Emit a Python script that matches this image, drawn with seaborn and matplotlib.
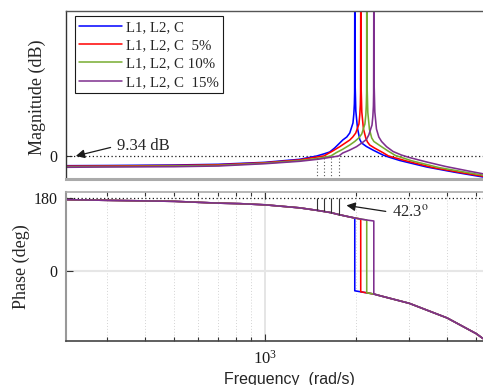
import numpy as np
import pandas as pd
import matplotlib
matplotlib.use("Agg")
import matplotlib.pyplot as plt
import seaborn as sns
from matplotlib.ticker import LogLocator, NullFormatter, FixedLocator

# ---------------- data ----------------
labels = ["L1, L2, C", "L1, L2, C  5%", "L1, L2, C 10%", "L1, L2, C  15%"]
colors = ["#0000ff", "#ff0000", "#77ac30", "#7e2f8e"]

# resonance frequencies (rad/s) and 0 dB crossover frequencies
res_freq = [1979, 2071, 2168, 2288]
cross_freq = [1481, 1562, 1648, 1752]
cross_phase = [148.8, 146.0, 143.1, 138.2]

# magnitude curves (freq rad/s, magnitude dB)
mag_f_blue = [219, 300, 500, 700, 1000, 1300, 1481, 1560, 1635, 1698, 1806, 1862, 1905, 1952, 1965, 1973, 1977, 1979,
              1981, 1985, 1995, 2020, 2056, 2085, 2163, 2272, 2452, 2560, 2790, 3425, 4200, 5260]
mag_db_blue = [-9.7, -9.5, -9.0, -8.3, -6.3, -3.3, 0, 2, 4, 8, 16, 19, 23, 33, 42, 52, 64, 160,
               160, 70, 45, 28, 16.5, 13, 9.5, 6, 1, -1, -4.5, -11, -16, -21]
mag_f_red = [219, 300, 500, 700, 1000, 1300, 1400, 1562, 1657, 1765, 1905, 1949, 1994, 2043, 2056, 2065, 2069, 2071,
             2073, 2077, 2088, 2114, 2152, 2180, 2218, 2300, 2455, 2560, 2920, 3584, 4395, 5260]
mag_db_red = [-10.2, -10.0, -9.5, -8.8, -6.7, -3.9, -2.2, 0, 4.3, 9.3, 16, 19, 23, 32, 41, 51, 63, 160,
              160, 69, 44, 27.3, 18, 14, 11, 8, 3.3, 0, -4.8, -11.5, -16.3, -20.2]
mag_f_green = [219, 300, 500, 700, 1000, 1300, 1500, 1648, 1722, 1800, 1905, 1978, 2040, 2087, 2138, 2153, 2161, 2166, 2168,
               2170, 2175, 2186, 2213, 2252, 2290, 2394, 2550, 2700, 3056, 3752, 4601, 5260]
mag_db_green = [-10.7, -10.5, -10.0, -9.4, -7.2, -4.6, -2.3, 0, 3.5, 6.5, 11, 14.5, 18, 22, 32, 41, 51, 63, 160,
                160, 68, 43.5, 26.8, 18, 14.5, 10.5, 5, 0.5, -4.8, -11.5, -16.2, -19.2]
mag_f_purple = [219, 300, 500, 700, 1000, 1300, 1500, 1752, 1806, 1900, 2005, 2088, 2162, 2202, 2257, 2272, 2281, 2285, 2288,
                2290, 2295, 2306, 2335, 2377, 2428, 2522, 2650, 2822, 3000, 3425, 3959, 4855, 5260]
mag_db_purple = [-11.3, -11.0, -10.7, -10.0, -7.7, -5.3, -3.2, 0, 3, 5.8, 9.3, 13, 16.5, 21, 31, 40, 50, 63, 160,
                 160, 69, 44, 27, 19, 14.5, 9.3, 4.5, 1, -1.5, -6, -10.5, -15.8, -17.8]

# phase: common branch before resonance and after resonance (deg)
ph_f_upper = [219, 300, 501, 700, 826, 1000, 1300, 1481, 1562, 1648, 1752, 1900, 1979, 2071, 2168, 2288]
ph_upper = [175.1, 173.4, 170.9, 166.5, 165.2, 162.3, 154.9, 148.8, 146.0, 143.1, 138.2, 132.5, 129.8, 127.2, 124.8, 122.4]
ph_f_lower = [1979, 2071, 2168, 2288, 2394, 3000, 4000, 5000, 5260]
ph_lower = [-50, -52.5, -55, -58, -62, -81, -117, -156, -168]

# ---------------- build tables ----------------
mag_f = [mag_f_blue, mag_f_red, mag_f_green, mag_f_purple]
mag_db = [mag_db_blue, mag_db_red, mag_db_green, mag_db_purple]
rows = []
for lab, fs, ds in zip(labels, mag_f, mag_db):
    for f, d in zip(fs, ds):
        rows.append({"curve": lab, "freq": f, "mag": d})
mag_df = pd.DataFrame(rows)

rows = []
for lab, wr in zip(labels, res_freq):
    for f, p in zip(ph_f_upper, ph_upper):
        if f <= wr:
            rows.append({"curve": lab, "freq": f, "phase": p})
    for f, p in zip(ph_f_lower, ph_lower):
        if f >= wr:
            rows.append({"curve": lab, "freq": f, "phase": p})
ph_df = pd.DataFrame(rows)

palette = dict(zip(labels, colors))

# ---------------- figure ----------------
sns.set_theme(style="white")
plt.rcParams["font.family"] = ["Liberation Serif", "DejaVu Serif"]
plt.rcParams["mathtext.fontset"] = "stix"

W, H = 483, 385
fig = plt.figure(figsize=(W / 100, H / 100), dpi=100)
fig.patch.set_facecolor("white")

def fx(px):
    return px / W

def fy(py):
    return 1 - py / H

ax1 = fig.add_axes([fx(66), fy(179), fx(483) - fx(66), fy(11) - fy(179)])
ax2 = fig.add_axes([fx(66), fy(341), fx(483) - fx(66), fy(192) - fy(341)])

xlim = (219, 5260)

# --- magnitude ---
sns.lineplot(data=mag_df, x="freq", y="mag", hue="curve", hue_order=labels, palette=palette,
             estimator=None, sort=False, lw=1.15, ax=ax1, legend=True)
ax1.set_xscale("log")
ax1.set_xlim(*xlim)
ax1.set_ylim(-23, 145)
ax1.axhline(0, color="k", ls=(0, (1, 2)), lw=0.9, zorder=1)
ax1.vlines(cross_freq, -23, 0, colors="0.35", linestyles=(0, (1, 2)), lw=0.8)
ax1.set_yticks([0])
ax1.set_yticklabels(["0"])
ax1.set_xticks([])
ax1.xaxis.set_minor_locator(FixedLocator([]))
ax1.set_xlabel("")
ax1.set_ylabel("Magnitude (dB)", fontsize=13)
ax1.yaxis.set_label_coords(-0.0695, 0.485)
ax1.yaxis.label.set_va("center")
ax1.tick_params(axis="y", direction="in", length=4, width=0.8, pad=6, labelsize=11.5, colors="#333333",
                labelcolor="k", left=True)
ax1.spines["left"].set_color("#333333"); ax1.spines["left"].set_linewidth(1.0)
ax1.spines["top"].set_color("#555555"); ax1.spines["top"].set_linewidth(1.0)
ax1.spines["bottom"].set_color("#aaaaaa"); ax1.spines["bottom"].set_linewidth(2.2)
ax1.spines["right"].set_visible(False)

h, l = ax1.get_legend_handles_labels()
leg = ax1.legend(h, l, loc="upper left", bbox_to_anchor=((75 - 66) / 417, (179 - 16) / 168),
                 borderaxespad=0, fontsize=10.7, frameon=True, fancybox=False, framealpha=1,
                 edgecolor="k", borderpad=0.3, handlelength=2.85, handletextpad=0.25,
                 labelspacing=0.33)
leg.get_frame().set_linewidth(0.8)
for line in leg.get_lines():
    line.set_linewidth(1.1)

ax1.annotate("9.34 dB", xy=(236, 0), xytext=(322, 10), fontsize=12, va="center", ha="left",
             arrowprops=dict(arrowstyle="-|>", color="k", lw=0.9, mutation_scale=13,
                             shrinkA=2, shrinkB=0, relpos=(0, 0.5)))

# --- phase ---
ax2.set_xscale("log")
for xv in [300, 400, 500, 600, 700, 800, 900, 2000, 3000, 4000, 5000]:
    ax2.axvline(xv, color="#d4d4d4", ls=(0, (1, 2)), lw=0.7, zorder=0)
ax2.axvline(1000, color="#e3e3e3", lw=1.3, zorder=0)
ax2.axhline(0, color="#e6e6e6", lw=1.5, zorder=0)
sns.lineplot(data=ph_df, x="freq", y="phase", hue="curve", hue_order=labels, palette=palette,
             estimator=None, sort=False, lw=1.15, ax=ax2, legend=False)
ax2.set_xlim(*xlim)
ax2.set_ylim(-174, 194)
ax2.axhline(180, color="k", ls=(0, (1, 2)), lw=0.9, zorder=1)
ax2.vlines(cross_freq, cross_phase, 180, colors="#333333", lw=0.8)
ax2.set_yticks([0, 180])
ax2.set_yticklabels(["0", "180"])
ax2.xaxis.set_major_locator(LogLocator(base=10))
ax2.xaxis.set_minor_locator(LogLocator(base=10, subs=np.arange(2, 10)))
ax2.xaxis.set_minor_formatter(NullFormatter())
ax2.tick_params(axis="x", which="both", direction="in", top=True, bottom=True, colors="#333333",
                labelcolor="k", labelsize=12, pad=6)
ax2.tick_params(axis="x", which="major", length=5, width=0.8)
ax2.tick_params(axis="x", which="minor", length=3, width=0.8)
ax2.tick_params(axis="y", direction="in", length=5, width=0.8, pad=6, labelsize=11.5, colors="#333333",
                labelcolor="k", left=True)
ax2.set_ylabel("Phase (deg)", fontsize=13)
ax2.yaxis.set_label_coords(-0.108, 0.5)
ax2.yaxis.label.set_va("center")
ax2.set_xlabel("Frequency  (rad/s)", fontsize=11.5, family=["Liberation Sans", "DejaVu Sans"])
ax2.xaxis.set_label_coords(0.537, -0.205)
ax2.xaxis.label.set_va("top")
ax2.spines["left"].set_color("#999999"); ax2.spines["left"].set_linewidth(1.5)
ax2.spines["top"].set_color("#aaaaaa"); ax2.spines["top"].set_linewidth(1.2)
ax2.spines["bottom"].set_color("#444444"); ax2.spines["bottom"].set_linewidth(1.2)
ax2.spines["right"].set_visible(False)

ax2.annotate(r"42.3$^{\mathrm{o}}$", xy=(1858, 161), xytext=(2624, 143.8), fontsize=12, va="center",
             ha="left",
             arrowprops=dict(arrowstyle="-|>", color="k", lw=0.9, mutation_scale=13,
                             shrinkA=2, shrinkB=0, relpos=(0, 0.5)))

fig.savefig("out.png", dpi=100, facecolor="white")
